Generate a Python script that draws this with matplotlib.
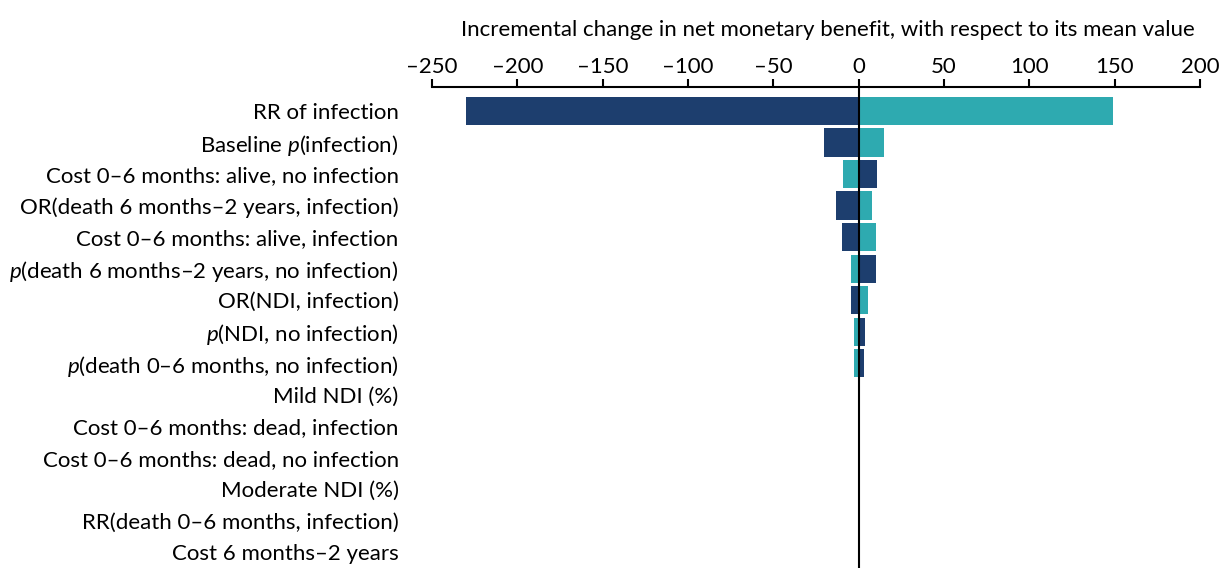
import matplotlib.pyplot as plt
import numpy as np
from matplotlib.ticker import FuncFormatter

plt.rcParams['font.family'] = ['Lato', 'DejaVu Sans']
plt.rcParams['mathtext.fontset'] = 'custom'
plt.rcParams['mathtext.rm'] = 'Lato'
plt.rcParams['mathtext.it'] = 'Lato:italic'

# parameters, top to bottom
params = ["RR of infection",
          "Baseline $p$(infection)",
          "Cost 0\u20136 months: alive, no infection",
          "OR(death 6 months\u20132 years, infection)",
          "Cost 0\u20136 months: alive, infection",
          "$p$(death 6 months\u20132 years, no infection)",
          "OR(NDI, infection)",
          "$p$(NDI, no infection)",
          "$p$(death 0\u20136 months, no infection)",
          "Mild NDI (%)",
          "Cost 0\u20136 months: dead, infection",
          "Cost 0\u20136 months: dead, no infection",
          "Moderate NDI (%)",
          "RR(death 0\u20136 months, infection)",
          "Cost 6 months\u20132 years"]

# change in NMB for each end of the range (dark / teal)
dark_vals = [-230, -20.5, 10.5, -13, -10, 10, -4.7, 3.5, 2.9, 0.6, 0, 0, 0, 0, 0]
teal_vals = [149, 15, -9.4, 7.6, 10, -4.7, 5.3, -2.9, -2.9, 0, 0, 0, 0, 0, 0]

dark = '#1D3E6E'
teal = '#2EAAB0'

fig = plt.figure(figsize=(12.25, 5.68), dpi=100)
ax = fig.add_axes([432/1225, 0, 768/1225, 1 - 87/568])

y = np.arange(len(params))
ax.barh(y, dark_vals, height=0.89, color=dark)
ax.barh(y, teal_vals, height=0.89, color=teal)
ax.axvline(0, color='black', lw=1.5)

ax.set_xlim(-250, 200)
ax.set_ylim(len(params) - 0.5, -0.76)
ax.set_xticks(np.arange(-250, 201, 50))
ax.xaxis.set_major_formatter(FuncFormatter(lambda v, p: f"{v:.0f}".replace('-', '\u2013')))
ax.xaxis.tick_top()
ax.xaxis.set_label_position('top')
ax.tick_params(axis='x', length=6, width=1.5, labelsize=16, pad=1)
ax.set_xlabel("Incremental change in net monetary benefit, with respect to its mean value",
              fontsize=16, labelpad=15)
ax.xaxis.label.set_x(0.516)

ax.set_yticks(y)
ax.set_yticklabels(params, fontsize=16)
ax.tick_params(axis='y', length=0, pad=24)

for s in ['bottom', 'left', 'right']:
    ax.spines[s].set_visible(False)
ax.spines['top'].set_linewidth(1.5)

fig.savefig('out.png', dpi=100)
